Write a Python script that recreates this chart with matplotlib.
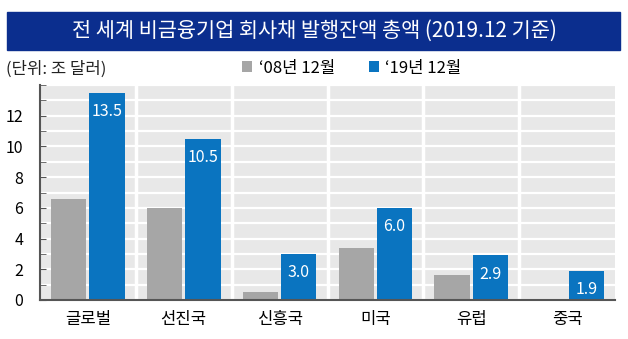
import numpy as np
import matplotlib.pyplot as plt
from matplotlib.patches import Rectangle
from matplotlib.ticker import MultipleLocator

plt.rcParams['font.family'] = ['Noto Sans CJK KR', 'DejaVu Sans']

# Data (unit: trillion USD)
categories = ['글로벌', '선진국', '신흥국', '미국', '유럽', '중국']
values_08 = [6.6, 6.0, 0.5, 3.4, 1.6, 0.0]
values_19 = [13.5, 10.5, 3.0, 6.0, 2.9, 1.9]
series_names = ['‘08년 12월', '‘19년 12월']
yticks = [0, 2, 4, 6, 8, 10, 12]
title = '전 세계 비금융기업 회사채 발행잔액 총액 (2019.12 기준)'
unit_label = '(단위: 조 달러)'

gray = '#a6a6a6'
blue = '#0a74c0'
navy = '#0b2e8e'

fig = plt.figure(figsize=(6.28, 3.39), dpi=100)
ax = fig.add_axes([40 / 628, 39 / 339, 575 / 628, 215 / 339])

# Title band
fig.patches.append(Rectangle((7 / 628, 1 - 50 / 339), 613 / 628, 38 / 339,
                             transform=fig.transFigure, color=navy, zorder=0))
fig.text(314 / 628, 1 - 31 / 339, title, color='white', fontsize=15,
         ha='center', va='center')
fig.text(6 / 628, 1 - 69 / 339, unit_label, fontsize=12, color='#222222',
         ha='left', va='center')

x = np.arange(len(categories))
w = 0.37
bars08 = ax.bar(x - 0.2, values_08, w, color=gray, zorder=3, label=series_names[0])
bars19 = ax.bar(x + 0.2, values_19, w, color=blue, zorder=3, label=series_names[1])

for b, v in zip(bars19, values_19):
    ax.annotate(f'{v:.1f}', (b.get_x() + b.get_width() / 2, v),
                xytext=(0, -13.5), textcoords='offset points',
                ha='center', va='center', color='white', fontsize=11.5, zorder=4)

ax.set_facecolor('#e8e8e8')
ax.set_xlim(-0.5, len(categories) - 0.5)
ax.set_ylim(0, 14)
ax.set_yticks(yticks)
ax.yaxis.set_minor_locator(MultipleLocator(1))
ax.grid(axis='y', which='both', color='white', linewidth=1.6, zorder=1)
ax.set_axisbelow(True)
for sep in np.arange(0.5, len(categories) - 0.5, 1):
    ax.axvline(sep, color='white', linewidth=2.5, zorder=2)

for s in ['top', 'right']:
    ax.spines[s].set_visible(False)
for s in ['left', 'bottom']:
    ax.spines[s].set_color('#555555')
    ax.spines[s].set_linewidth(1.5)
    ax.spines[s].set_zorder(5)

ax.set_xticks(x)
ax.set_xticklabels(categories, fontsize=12)
ax.tick_params(axis='x', length=0, pad=8)
ax.tick_params(axis='y', which='both', direction='in', length=4, color='#555555',
               labelsize=11.5, pad=12)

leg = ax.legend(loc='center', bbox_to_anchor=(352 / 628, 1 - 68 / 339),
                bbox_transform=fig.transFigure, ncol=2, frameon=False,
                handlelength=0.6, handleheight=0.6, handletextpad=0.4,
                columnspacing=2.0, fontsize=12)

fig.savefig('out.png', dpi=100)
